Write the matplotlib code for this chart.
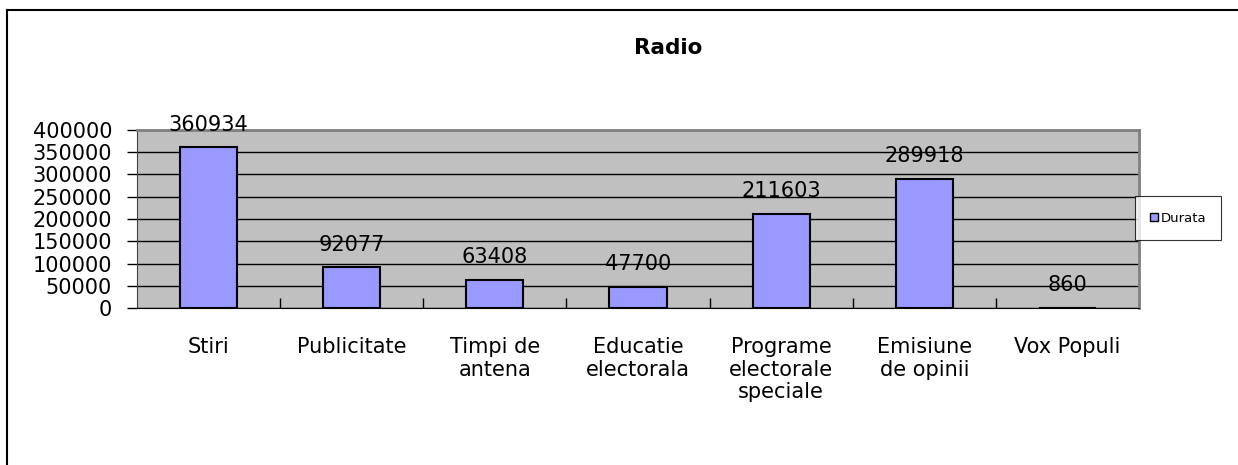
import matplotlib.pyplot as plt
import numpy as np
from matplotlib.lines import Line2D

categories = ["Stiri", "Publicitate", "Timpi de\nantena", "Educatie\nelectorala",
              "Programe\nelectorale\nspeciale", "Emisiune\nde opinii", "Vox Populi"]
durata = [360934, 92077, 63408, 47700, 211603, 289918, 860]
yticks = np.arange(0, 400001, 50000)

plt.rcParams['font.family'] = ['DejaVu Sans']

W, H = 1238, 465
fig = plt.figure(figsize=(W / 100, H / 100), dpi=100)

# plot area in pixels
left, right, top, bottom = 137, 1139, 130, 308
ax = fig.add_axes([left / W, 1 - bottom / H, (right - left) / W, (bottom - top) / H])
ax.set_facecolor('#C0C0C0')

x = np.arange(len(categories))
ax.bar(x, durata, width=0.4, color='#9999FF', edgecolor='black', linewidth=1.5,
       zorder=3, label='Durata')
ax.set_xlim(-0.5, len(categories) - 0.5)
ax.set_ylim(0, 400000)
ax.set_yticks(yticks)
ax.set_yticklabels([str(v) for v in yticks], fontsize=15)
ax.yaxis.grid(True, color='black', linewidth=1, zorder=1)
ax.tick_params(axis='y', length=7, width=1, pad=11, direction='out')

ax.set_xticks(x)
ax.set_xticklabels(categories, fontsize=15, linespacing=1.15, va='top')
ax.tick_params(axis='x', length=0, pad=21)
ax.set_xticks(np.arange(0.5, len(categories) - 0.5), minor=True)
ax.tick_params(axis='x', which='minor', length=7, direction='in', width=1)

for s in ['top', 'right']:
    ax.spines[s].set_color('#808080')
    ax.spines[s].set_linewidth(2)
ax.spines['left'].set_color('#404040')
ax.spines['bottom'].set_color('black')

for xi, v in zip(x, durata):
    ax.annotate(str(v), (xi, v), xytext=(0, 9), textcoords='offset points',
                ha='center', va='bottom', fontsize=15, zorder=4)

fig.text(668 / W, 1 - 48 / H, "Radio", ha='center', va='center', fontsize=15.5, fontweight='bold')

leg = fig.legend(handles=[plt.Rectangle((0, 0), 1, 1, facecolor='#9999FF', edgecolor='black')],
                 labels=['Durata'], loc='center', bbox_to_anchor=(1178 / W, 1 - 218 / H),
                 fontsize=9.5, frameon=True, fancybox=False, handlelength=0.6, handleheight=0.6,
                 handletextpad=0.2, borderpad=1.15, borderaxespad=0)
leg.get_frame().set_edgecolor('black')
leg.get_frame().set_linewidth(0.8)

# outer chart border (left and top)
fig.add_artist(Line2D([7 / W, 7 / W], [0, 1 - 10 / H], color='black', linewidth=1.5))
fig.add_artist(Line2D([7 / W, 1], [1 - 10 / H, 1 - 10 / H], color='black', linewidth=1.5))

fig.savefig('out.png', dpi=100, facecolor='white')
